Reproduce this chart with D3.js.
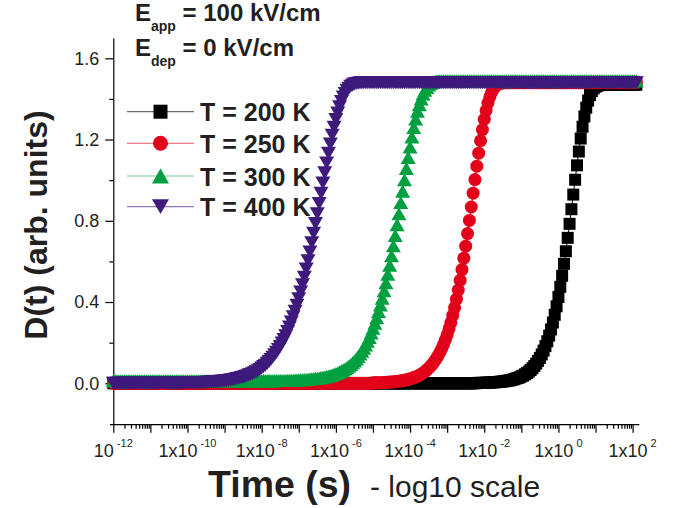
<!DOCTYPE html>
<html>
<head>
<meta charset="utf-8">
<script src="https://cdn.jsdelivr.net/npm/d3@7"></script>
<style>
  body { margin: 0; background: #fff; }
  text { font-family: "Liberation Sans", Arial, Helvetica, sans-serif; fill: #231f20; }
</style>
</head>
<body>
<svg id="chart" width="684" height="508"></svg>
<script>
// Sampling times, as powers of ten (seconds); one decade per row
const timeExp = [
  -12,-11.95,-11.9,-11.85,-11.8,-11.75,-11.7,-11.65,-11.6,-11.55,-11.5,-11.45,-11.4,-11.35,-11.3,-11.25,-11.2,-11.15,-11.1,-11.05,
  -11,-10.95,-10.9,-10.85,-10.8,-10.75,-10.7,-10.65,-10.6,-10.55,-10.5,-10.45,-10.4,-10.35,-10.3,-10.25,-10.2,-10.15,-10.1,-10.05,
  -10,-9.95,-9.9,-9.85,-9.8,-9.75,-9.7,-9.65,-9.6,-9.55,-9.5,-9.45,-9.4,-9.35,-9.3,-9.25,-9.2,-9.15,-9.1,-9.05,
  -9,-8.95,-8.9,-8.85,-8.8,-8.75,-8.7,-8.65,-8.6,-8.55,-8.5,-8.45,-8.4,-8.35,-8.3,-8.25,-8.2,-8.15,-8.1,-8.05,
  -8,-7.95,-7.9,-7.85,-7.8,-7.75,-7.7,-7.65,-7.6,-7.55,-7.5,-7.45,-7.4,-7.35,-7.3,-7.25,-7.2,-7.15,-7.1,-7.05,
  -7,-6.95,-6.9,-6.85,-6.8,-6.75,-6.7,-6.65,-6.6,-6.55,-6.5,-6.45,-6.4,-6.35,-6.3,-6.25,-6.2,-6.15,-6.1,-6.05,
  -6,-5.95,-5.9,-5.85,-5.8,-5.75,-5.7,-5.65,-5.6,-5.55,-5.5,-5.45,-5.4,-5.35,-5.3,-5.25,-5.2,-5.15,-5.1,-5.05,
  -5,-4.95,-4.9,-4.85,-4.8,-4.75,-4.7,-4.65,-4.6,-4.55,-4.5,-4.45,-4.4,-4.35,-4.3,-4.25,-4.2,-4.15,-4.1,-4.05,
  -4,-3.95,-3.9,-3.85,-3.8,-3.75,-3.7,-3.65,-3.6,-3.55,-3.5,-3.45,-3.4,-3.35,-3.3,-3.25,-3.2,-3.15,-3.1,-3.05,
  -3,-2.95,-2.9,-2.85,-2.8,-2.75,-2.7,-2.65,-2.6,-2.55,-2.5,-2.45,-2.4,-2.35,-2.3,-2.25,-2.2,-2.15,-2.1,-2.05,
  -2,-1.95,-1.9,-1.85,-1.8,-1.75,-1.7,-1.65,-1.6,-1.55,-1.5,-1.45,-1.4,-1.35,-1.3,-1.25,-1.2,-1.15,-1.1,-1.05,
  -1,-0.95,-0.9,-0.85,-0.8,-0.75,-0.7,-0.65,-0.6,-0.55,-0.5,-0.45,-0.4,-0.35,-0.3,-0.25,-0.2,-0.15,-0.1,-0.05,
  0,0.05,0.1,0.15,0.2,0.25,0.3,0.35,0.4,0.45,0.5,0.55,0.6,0.65,0.7,0.75,0.8,0.85,0.9,0.95,
  1,1.05,1.1,1.15,1.2,1.25,1.3,1.35,1.4,1.45,1.5,1.55,1.6,1.65,1.7,1.75,1.8,1.85,1.9,1.95,
  2,2.05,2.1
];

// D(t) at T = 200 K
const d200 = [
  0,0,0,0,0,0,0,0,0,0,0,0,0,0,0,0,0,0,0,0,
  0,0,0,0,0,0,0,0,0,0,0,0,0,0,0,0,0,0,0,0,
  0,0,0,0,0,0,0,0,0,0,0,0,0,0,0,0,0,0,0,0,
  0,0,0,0,0,0,0,0,0,0,0,0,0,0,0,0,0,0,0,0,
  0,0,0,0,0,0,0,0,0,0,0,0,0,0,0,0,0,0,0,0,
  0,0,0,0,0,0,0,0,0,0,0,0,0,0,0,0,0,0,0,0,
  0,0,0,0,0,0,0,0,0,0,0,0,0,0,0,0,0,0,0,0,
  0,0,0,0,0,0,0,0,0,0,0,0,0,0,0,0,0,0,0,0,
  0,0,0,0,0,0,0,0,0,0,0,0,0,0,0,0,0,0,0,0,
  0,0,0,0,0,0,0,0,0,0,0,0,0,0,0,0,0.001,0.002,0.002,0.002,
  0.002,0.003,0.003,0.004,0.004,0.005,0.005,0.006,0.007,0.008,0.009,0.010,0.012,0.013,0.015,0.017,0.020,0.023,0.026,0.029,
  0.034,0.038,0.044,0.050,0.057,0.065,0.074,0.085,0.097,0.110,0.125,0.142,0.161,0.183,0.207,0.235,0.265,0.299,0.337,0.379,
  0.425,0.475,0.529,0.588,0.650,0.716,0.785,0.857,0.929,1.002,1.073,1.141,1.205,1.263,1.314,1.357,1.392,1.419,1.438,1.452,
  1.460,1.465,1.468,1.469,1.470,1.47,1.47,1.47,1.47,1.47,1.47,1.47,1.47,1.47,1.47,1.47,1.47,1.47,1.47,1.47,
  1.47,1.47,1.47
];

// D(t) at T = 250 K
const d250 = [
  0,0,0,0,0,0,0,0,0,0,0,0,0,0,0,0,0,0,0,0,
  0,0,0,0,0,0,0,0,0,0,0,0,0,0,0,0,0,0,0,0,
  0,0,0,0,0,0,0,0,0,0,0,0,0,0,0,0,0,0,0,0,
  0,0,0,0,0,0,0,0,0,0,0,0,0,0,0,0,0,0,0,0,
  0,0,0,0,0,0,0,0,0,0,0,0,0,0,0,0,0,0,0,0,
  0,0,0,0,0,0,0,0,0,0,0,0,0,0,0,0,0,0,0,0,
  0,0,0,0,0,0,0,0,0,0,0,0,0,0,0,0,0,0,0,0,
  0.002,0.002,0.002,0.003,0.003,0.003,0.004,0.004,0.005,0.006,0.006,0.007,0.008,0.009,0.010,0.012,0.013,0.015,0.017,0.019,
  0.022,0.025,0.028,0.031,0.035,0.040,0.045,0.051,0.058,0.065,0.074,0.083,0.094,0.106,0.119,0.134,0.151,0.169,0.190,0.213,
  0.239,0.268,0.299,0.334,0.372,0.414,0.459,0.507,0.560,0.616,0.675,0.737,0.802,0.868,0.936,1.003,1.069,1.133,1.194,1.249,
  1.300,1.343,1.380,1.410,1.433,1.450,1.462,1.470,1.475,1.478,1.479,1.48,1.48,1.48,1.48,1.48,1.48,1.48,1.48,1.48,
  1.48,1.48,1.48,1.48,1.48,1.48,1.48,1.48,1.48,1.48,1.48,1.48,1.48,1.48,1.48,1.48,1.48,1.48,1.48,1.48,
  1.48,1.48,1.48,1.48,1.48,1.48,1.48,1.48,1.48,1.48,1.48,1.48,1.48,1.48,1.48,1.48,1.48,1.48,1.48,1.48,
  1.48,1.48,1.48,1.48,1.48,1.48,1.48,1.48,1.48,1.48,1.48,1.48,1.48,1.48,1.48,1.48,1.48,1.48,1.48,1.48,
  1.48,1.48,1.48
];

// D(t) at T = 300 K
const d300 = [
  0.012,0.012,0.012,0.012,0.012,0.012,0.012,0.012,0.012,0.012,0.012,0.012,0.012,0.012,0.012,0.012,0.012,0.012,0.012,0.012,
  0.012,0.012,0.012,0.012,0.012,0.012,0.012,0.012,0.012,0.012,0.012,0.012,0.012,0.012,0.012,0.012,0.012,0.012,0.012,0.012,
  0.012,0.012,0.012,0.012,0.012,0.012,0.012,0.012,0.012,0.012,0.012,0.012,0.012,0.012,0.012,0.012,0.012,0.012,0.012,0.012,
  0.012,0.012,0.012,0.012,0.012,0.012,0.012,0.012,0.012,0.012,0.012,0.012,0.012,0.012,0.012,0.012,0.012,0.012,0.012,0.012,
  0.013,0.013,0.013,0.013,0.013,0.013,0.013,0.013,0.013,0.014,0.014,0.014,0.014,0.014,0.015,0.015,0.015,0.015,0.016,0.016,
  0.017,0.017,0.018,0.018,0.019,0.020,0.021,0.022,0.023,0.024,0.025,0.026,0.028,0.030,0.031,0.034,0.036,0.038,0.041,0.044,
  0.048,0.052,0.056,0.061,0.066,0.071,0.078,0.085,0.092,0.101,0.110,0.120,0.132,0.144,0.158,0.173,0.189,0.207,0.226,0.248,
  0.271,0.296,0.323,0.353,0.385,0.419,0.456,0.495,0.537,0.581,0.628,0.677,0.728,0.781,0.835,0.890,0.946,1.002,1.058,1.112,
  1.163,1.213,1.259,1.301,1.339,1.372,1.400,1.424,1.443,1.457,1.469,1.476,1.482,1.485,1.488,1.489,1.489,1.49,1.49,1.49,
  1.49,1.49,1.49,1.49,1.49,1.49,1.49,1.49,1.49,1.49,1.49,1.49,1.49,1.49,1.49,1.49,1.49,1.49,1.49,1.49,
  1.49,1.49,1.49,1.49,1.49,1.49,1.49,1.49,1.49,1.49,1.49,1.49,1.49,1.49,1.49,1.49,1.49,1.49,1.49,1.49,
  1.49,1.49,1.49,1.49,1.49,1.49,1.49,1.49,1.49,1.49,1.49,1.49,1.49,1.49,1.49,1.49,1.49,1.49,1.49,1.49,
  1.49,1.49,1.49,1.49,1.49,1.49,1.49,1.49,1.49,1.49,1.49,1.49,1.49,1.49,1.49,1.49,1.49,1.49,1.49,1.49,
  1.49,1.49,1.49,1.49,1.49,1.49,1.49,1.49,1.49,1.49,1.49,1.49,1.49,1.49,1.49,1.49,1.49,1.49,1.49,1.49,
  1.49,1.49,1.49
];

// D(t) at T = 400 K
const d400 = [
  0,0,0,0,0,0,0,0,0,0,0,0,0,0,0,0,0,0,0,0,
  0,0,0,0,0,0,0,0,0,0,0,0,0,0,0,0,0,0,0,0.002,
  0.002,0.002,0.002,0.003,0.003,0.003,0.003,0.004,0.004,0.004,0.005,0.005,0.006,0.006,0.007,0.008,0.008,0.009,0.010,0.011,
  0.012,0.013,0.014,0.016,0.017,0.019,0.021,0.023,0.025,0.028,0.030,0.033,0.036,0.040,0.043,0.047,0.052,0.057,0.062,0.068,
  0.075,0.082,0.089,0.098,0.107,0.117,0.128,0.140,0.152,0.166,0.181,0.198,0.215,0.234,0.255,0.277,0.301,0.327,0.355,0.384,
  0.416,0.449,0.485,0.522,0.562,0.603,0.646,0.692,0.738,0.786,0.835,0.885,0.936,0.986,1.036,1.085,1.132,1.178,1.221,1.261,
  1.298,1.331,1.361,1.387,1.409,1.427,1.442,1.453,1.462,1.468,1.473,1.476,1.477,1.479,1.479,1.48,1.48,1.48,1.48,1.48,
  1.48,1.48,1.48,1.48,1.48,1.48,1.48,1.48,1.48,1.48,1.48,1.48,1.48,1.48,1.48,1.48,1.48,1.48,1.48,1.48,
  1.48,1.48,1.48,1.48,1.48,1.48,1.48,1.48,1.48,1.48,1.48,1.48,1.48,1.48,1.48,1.48,1.48,1.48,1.48,1.48,
  1.48,1.48,1.48,1.48,1.48,1.48,1.48,1.48,1.48,1.48,1.48,1.48,1.48,1.48,1.48,1.48,1.48,1.48,1.48,1.48,
  1.48,1.48,1.48,1.48,1.48,1.48,1.48,1.48,1.48,1.48,1.48,1.48,1.48,1.48,1.48,1.48,1.48,1.48,1.48,1.48,
  1.48,1.48,1.48,1.48,1.48,1.48,1.48,1.48,1.48,1.48,1.48,1.48,1.48,1.48,1.48,1.48,1.48,1.48,1.48,1.48,
  1.48,1.48,1.48,1.48,1.48,1.48,1.48,1.48,1.48,1.48,1.48,1.48,1.48,1.48,1.48,1.48,1.48,1.48,1.48,1.48,
  1.48,1.48,1.48,1.48,1.48,1.48,1.48,1.48,1.48,1.48,1.48,1.48,1.48,1.48,1.48,1.48,1.48,1.48,1.48,1.48,
  1.48,1.48,1.48
];

const seriesLabels = ["T = 200 K", "T = 250 K", "T = 300 K", "T = 400 K"];
const seriesValues = [d200, d250, d300, d400];
const seriesColors = ["#000000", "#e2001a", "#00a040", "#3d1a7c"];
const legendLineColors = ["#6d6d6d", "#ec7a88", "#72c898", "#8d78b5"];

const xLabelExps = [-12, -10, -8, -6, -4, -2, 0, 2];
const yMajorTicks = [0, 0.4, 0.8, 1.2, 1.6];
const yMinorTicks = [0.2, 0.6, 1.0, 1.4];

seriesValues.forEach((v, k) => {
  if (v.length !== timeExp.length) throw new Error(seriesLabels[k] + ": " + v.length + " values for " + timeExp.length + " times");
});

// Marker shapes (centred on their bounding boxes)
const shapeSquare = { draw(c, s) { c.rect(-s / 2, -s / 2, s, s); } };
const shapeCircle = { draw(c, s) { c.moveTo(s / 2, 0); c.arc(0, 0, s / 2, 0, 2 * Math.PI); } };
const shapeTriUp = { draw(c, s) { const h = s * 0.87; c.moveTo(0, -h / 2); c.lineTo(s / 2, h / 2); c.lineTo(-s / 2, h / 2); c.closePath(); } };
const shapeTriDown = { draw(c, s) { const h = s * 0.87; c.moveTo(0, h / 2); c.lineTo(s / 2, -h / 2); c.lineTo(-s / 2, -h / 2); c.closePath(); } };
const shapes = [shapeSquare, shapeCircle, shapeTriUp, shapeTriDown];
const shapeSizes = [12, 13, 15, 15];

const svg = d3.select("#chart");

const x = d3.scaleLog().domain([1e-12, Math.pow(10, 2.18)]).range([113.3, 639.3]);
const y = d3.scaleLinear().domain([-0.204, 1.70]).range([424.7, 38]);

// ---- x axis ----
const decades = d3.range(-12, 3).map(e => Math.pow(10, e));
const minorX = [];
for (let e = -12; e < 2; e++) for (let m = 2; m <= 9; m++) minorX.push(m * Math.pow(10, e));

const xAxisG = svg.append("g").attr("transform", "translate(0,424.7)");
xAxisG.call(d3.axisBottom(x).tickValues(decades).tickSize(8).tickSizeOuter(0).tickFormat(""));
xAxisG.append("g").call(d3.axisBottom(x).tickValues(minorX).tickSize(4).tickFormat(""))
  .call(g => g.select(".domain").remove());
xAxisG.selectAll("path, line").attr("stroke", "#000").attr("stroke-width", 1.2);
xAxisG.select(".domain").attr("d", `M110,0H${x.range()[1]}`);

const xLab = svg.append("g");
xLabelExps.forEach(e => {
  const t = xLab.append("text")
    .attr("x", x(Math.pow(10, e)))
    .attr("y", 456.7)
    .attr("text-anchor", "middle")
    .attr("font-size", 18);
  t.append("tspan").text(e === -12 ? "10" : "1x10");
  t.append("tspan").attr("dx", 3).attr("dy", -10).attr("font-size", 11).text(String(e));
});

// ---- y axis ----
const yAxisG = svg.append("g").attr("transform", "translate(113.3,0)");
yAxisG.call(d3.axisLeft(y).tickValues(yMajorTicks).tickSize(8).tickSizeOuter(0)
  .tickPadding(6).tickFormat(d3.format(".1f")));
yAxisG.append("g").call(d3.axisLeft(y).tickValues(yMinorTicks).tickSize(4).tickFormat(""))
  .call(g => g.select(".domain").remove());
yAxisG.selectAll("path, line").attr("stroke", "#000").attr("stroke-width", 1.2);
yAxisG.selectAll("text").attr("font-size", 18).attr("fill", "#231f20")
  .attr("font-family", '"Liberation Sans", Arial, sans-serif');

// ---- series ----
const plot = svg.append("g");
seriesValues.forEach((vals, k) => {
  const pts = timeExp.map((e, i) => ({ t: Math.pow(10, e), v: vals[i] }));
  plot.append("path")
    .datum(pts)
    .attr("fill", "none")
    .attr("stroke", seriesColors[k])
    .attr("stroke-width", 1)
    .attr("d", d3.line().x(d => x(d.t)).y(d => y(d.v)));
  const sym = d3.symbol().type(shapes[k]).size(shapeSizes[k]);
  plot.append("g").selectAll("path")
    .data(pts)
    .join("path")
    .attr("transform", d => `translate(${x(d.t)},${y(d.v)})`)
    .attr("d", sym)
    .attr("fill", seriesColors[k]);
});

// ---- legend ----
const legendRows = [111.7, 143.3, 176, 206.7];
const legend = svg.append("g");
seriesLabels.forEach((lab, k) => {
  const ry = legendRows[k];
  legend.append("line").attr("x1", 127).attr("x2", 194).attr("y1", ry).attr("y2", ry)
    .attr("stroke", legendLineColors[k]).attr("stroke-width", 1.2);
  legend.append("path").attr("transform", `translate(160.5,${ry})`)
    .attr("d", d3.symbol().type(shapes[k]).size(shapeSizes[k] + 2)())
    .attr("fill", seriesColors[k]);
  legend.append("text").attr("x", 200).attr("y", ry + 9.5)
    .attr("font-size", 25).attr("font-weight", "bold").text(lab);
});

// ---- field annotations ----
const fieldLines = [
  { sub: "app", rest: " = 100 kV/cm", y: 21 },
  { sub: "dep", rest: " = 0 kV/cm", y: 56 }
];
fieldLines.forEach(f => {
  const t = svg.append("text").attr("x", 135).attr("y", f.y)
    .attr("font-size", 24).attr("font-weight", "bold");
  t.append("tspan").text("E");
  t.append("tspan").attr("dy", 10).attr("font-size", 14).text(f.sub);
  t.append("tspan").attr("dy", -10).text(f.rest);
});

// ---- axis titles ----
svg.append("text").attr("x", 208).attr("y", 497)
  .attr("font-size", 37.5).attr("font-weight", "bold").text("Time (s)");
svg.append("text").attr("x", 370).attr("y", 497)
  .attr("font-size", 30).text("- log10 scale");
svg.append("text")
  .attr("transform", "translate(47,225) rotate(-90)")
  .attr("text-anchor", "middle")
  .attr("font-size", 32).attr("font-weight", "bold")
  .text("D(t) (arb. units)");
</script>
</body>
</html>
